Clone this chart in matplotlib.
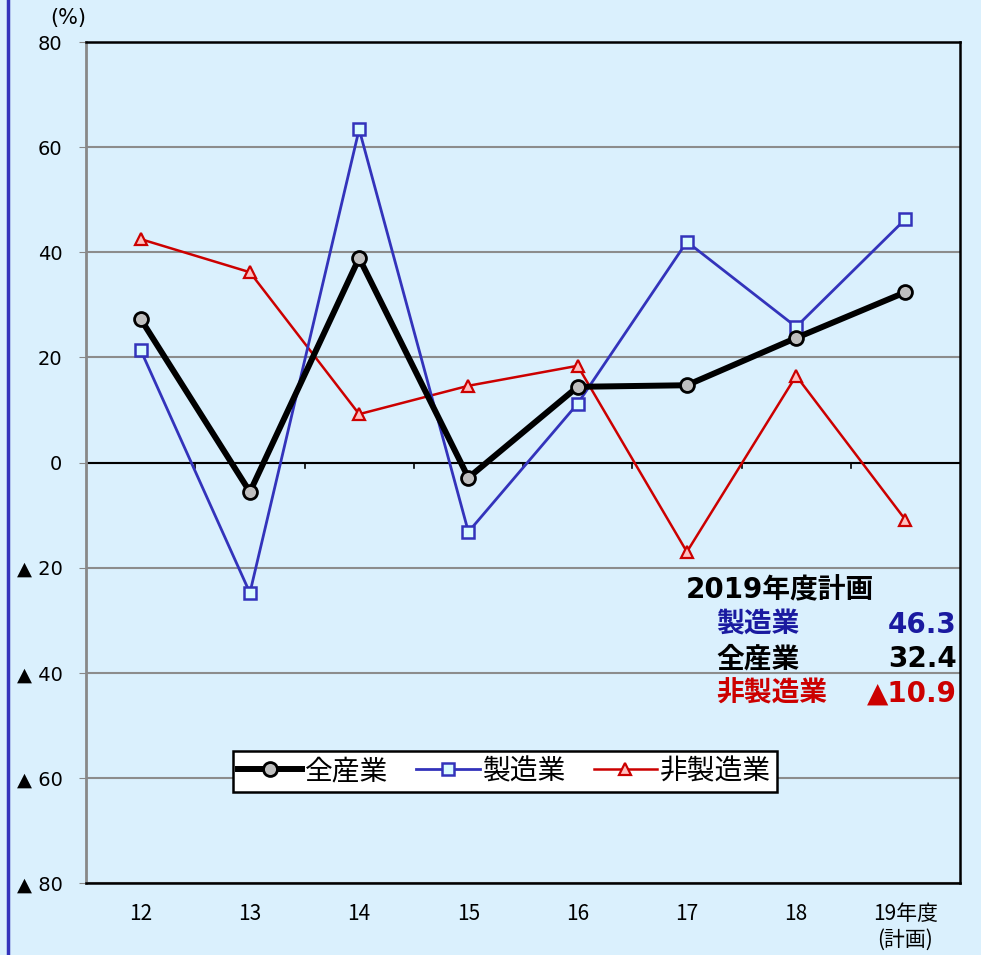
import numpy as np
import matplotlib
matplotlib.use('Agg')
import matplotlib.pyplot as plt

plt.rcParams['font.family'] = ['DejaVu Sans', 'Noto Sans CJK JP']

# 年度
years = ['12', '13', '14', '15', '16', '17', '18', '19年度\n(計画)']
# 前年度比 (%)
zensangyo = [27.3, -5.6, 38.9, -2.9, 14.4, 14.7, 23.7, 32.4]
seizogyo = [21.4, -24.8, 63.4, -13.2, 11.2, 42.0, 25.8, 46.3]
hiseizogyo = [42.5, 36.2, 9.2, 14.6, 18.4, -17.0, 16.5, -10.9]
yticks = [80, 60, 40, 20, 0, -20, -40, -60, -80]
ylabels = ['80', '60', '40', '20', '0', '▲ 20', '▲ 40', '▲ 60', '▲ 80']

bg = '#daf0fd'
blue = '#3333bb'
red = '#cc0000'
navy = '#1a1aa0'

fig = plt.figure(figsize=(9.81, 9.55), dpi=100, facecolor=bg)
ax = fig.add_axes([0.0877, 0.0754, 0.8909, 0.8806], facecolor=bg)

x = np.arange(len(years)) + 0.5
ax.plot(x, zensangyo, color='black', linewidth=4.3, marker='o', markersize=10,
        markerfacecolor='#bfbfbf', markeredgecolor='black', markeredgewidth=2, label='全産業', zorder=5)
ax.plot(x, seizogyo, color=blue, linewidth=2.0, marker='s', markersize=9,
        markerfacecolor='#d9fbff', markeredgecolor=blue, markeredgewidth=1.8, label='製造業', zorder=4)
ax.plot(x, hiseizogyo, color=red, linewidth=1.8, marker='^', markersize=9,
        markerfacecolor='#ffc0c0', markeredgecolor=red, markeredgewidth=1.6, label='非製造業', zorder=3)

ax.set_xlim(0, len(years))
ax.set_ylim(-80, 80)
ax.set_yticks(yticks)
ax.set_yticklabels(ylabels, fontsize=14)
ax.tick_params(axis='y', length=5, color='#888888', pad=12)
ax.yaxis.grid(True, color='#8c8c8c', linewidth=1.5)
ax.set_axisbelow(True)

# x軸は0の位置に、ラベルは下端に
ax.set_xticks([])
ax.axhline(0, color='black', linewidth=1.5, zorder=2)
for b in range(1, len(years)):
    ax.plot([b, b], [0, -1.0], color='black', linewidth=1.2, zorder=2)
cjk = ['Noto Sans CJK JP', 'DejaVu Sans']
for xi, lab in zip(x, years):
    ax.text(xi, -83.8, lab, ha='center', va='top', fontsize=15,
            family=cjk, linespacing=1.25)

ax.spines['left'].set_color('#888888')
ax.spines['left'].set_linewidth(2)
for s in ['top', 'right', 'bottom']:
    ax.spines[s].set_color('black')
    ax.spines[s].set_linewidth(1.8)

fig.text(68 / 981, 1 - 18 / 955, '(%)', ha='center', va='center', fontsize=15)

# 2019年度計画
tf = ['DejaVu Sans', 'Noto Sans CJK JP']
ax.text(5.49, -24.3, '2019年度計画', fontsize=20, fontweight='bold', va='center', family=tf)
ax.text(5.77, -30.9, '製造業', fontsize=20, fontweight='bold', color=navy, va='center', family=tf)
ax.text(7.97, -30.9, '46.3', fontsize=20, fontweight='bold', color=navy, va='center', ha='right', family=tf)
ax.text(5.77, -37.4, '全産業', fontsize=20, fontweight='bold', color='black', va='center', family=tf)
ax.text(7.97, -37.4, '32.4', fontsize=20, fontweight='bold', color='black', va='center', ha='right', family=tf)
ax.text(5.77, -43.9, '非製造業', fontsize=20, fontweight='bold', color=red, va='center', family=tf)
ax.text(7.97, -43.9, '▲10.9', fontsize=20, fontweight='bold', color=red, va='center', ha='right', family=tf)

leg = ax.legend(loc='center', bbox_to_anchor=(0.479, 0.133), ncol=3, fancybox=False, framealpha=1,
                edgecolor='black', handlelength=2.3, columnspacing=1.0, handletextpad=0.1,
                borderpad=0.2, borderaxespad=0, prop={'family': cjk, 'size': 20})
leg.get_frame().set_linewidth(1.8)

# 左端の青線
fig.add_artist(plt.Line2D([0.0085, 0.0085], [0, 1], color='#3333bb', linewidth=2.5))

plt.savefig('out.png', dpi=100, facecolor=bg)
